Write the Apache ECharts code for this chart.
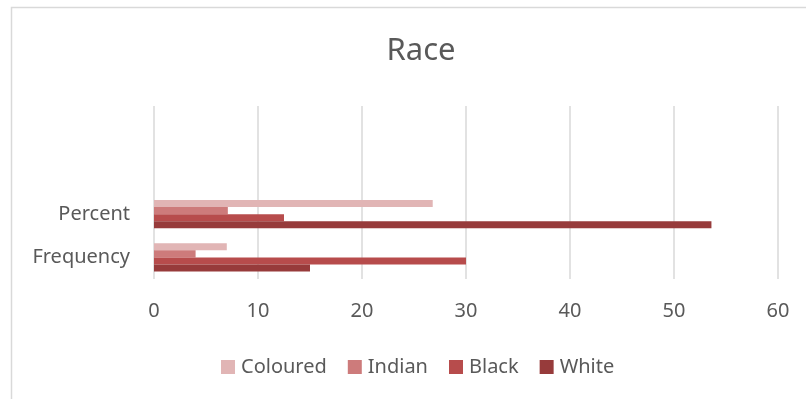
<!DOCTYPE html>
<html>
<head>
<meta charset="utf-8">
<script src="https://cdn.jsdelivr.net/npm/echarts@6/dist/echarts.min.js"></script>
<style>
  html, body { margin: 0; padding: 0; background: #fff; }
  #chart { width: 806px; height: 399px; }
</style>
</head>
<body>
<div id="chart"></div>
<script>
// Category rows (bottom to top); the two blank rows leave headroom above the bars
const categories = ['Frequency', 'Percent', '', ''];
const xTicks = [0, 10, 20, 30, 40, 50, 60];

const seriesNames = ['Coloured', 'Indian', 'Black', 'White'];
const coloured = [7, 26.8];
const indian = [4, 7.1];
const black = [30, 12.5];
const white = [15, 53.6];

const colours = {
  Coloured: '#E1B5B5',
  Indian: '#CD7B7B',
  Black: '#B74C4C',
  White: '#973B3B'
};

const valuesByName = { Coloured: coloured, Indian: indian, Black: black, White: white };

const chart = echarts.init(document.getElementById('chart'), null, { renderer: 'canvas' });

const font = '"Noto Sans", "Open Sans", sans-serif';

chart.setOption({
  animation: false,
  backgroundColor: '#ffffff',
  title: {
    text: 'Race',
    left: 416,
    top: 31,
    textAlign: 'center',
    textStyle: { fontFamily: font, fontSize: 31, fontWeight: 'normal', color: '#595959' }
  },
  legend: {
    data: seriesNames,
    left: 216,
    top: 352,
    itemWidth: 14,
    itemHeight: 14,
    itemGap: 21,
    icon: 'rect',
    textStyle: { fontFamily: font, fontSize: 20, color: '#595959', padding: [0, 0, 0, 1] }
  },
  grid: { left: 154, right: 28, top: 106, bottom: 120 },
  xAxis: {
    type: 'value',
    min: xTicks[0],
    max: xTicks[xTicks.length - 1],
    interval: 10,
    axisLine: { show: false },
    axisTick: { show: false },
    splitLine: { lineStyle: { color: '#d9d9d9', width: 1.5 } },
    axisLabel: { margin: 22, fontFamily: font, fontSize: 20, color: '#595959' }
  },
  yAxis: {
    type: 'category',
    data: categories,
    axisLine: { show: false },
    axisTick: { show: false },
    splitLine: { show: false },
    axisLabel: { margin: 24, fontFamily: font, fontSize: 20, color: '#595959' }
  },
  series: seriesNames.map(name => ({
    name: name,
    type: 'bar',
    data: valuesByName[name],
    barGap: '0%',
    barCategoryGap: '35%',
    itemStyle: { color: colours[name] }
  })),
  graphic: [{
    type: 'polyline',
    shape: { points: [[11.5, 420], [11.5, 7.5], [820, 7.5]] },
    style: { stroke: '#d9d9d9', lineWidth: 1.5, fill: null }
  }]
});
</script>
</body>
</html>
